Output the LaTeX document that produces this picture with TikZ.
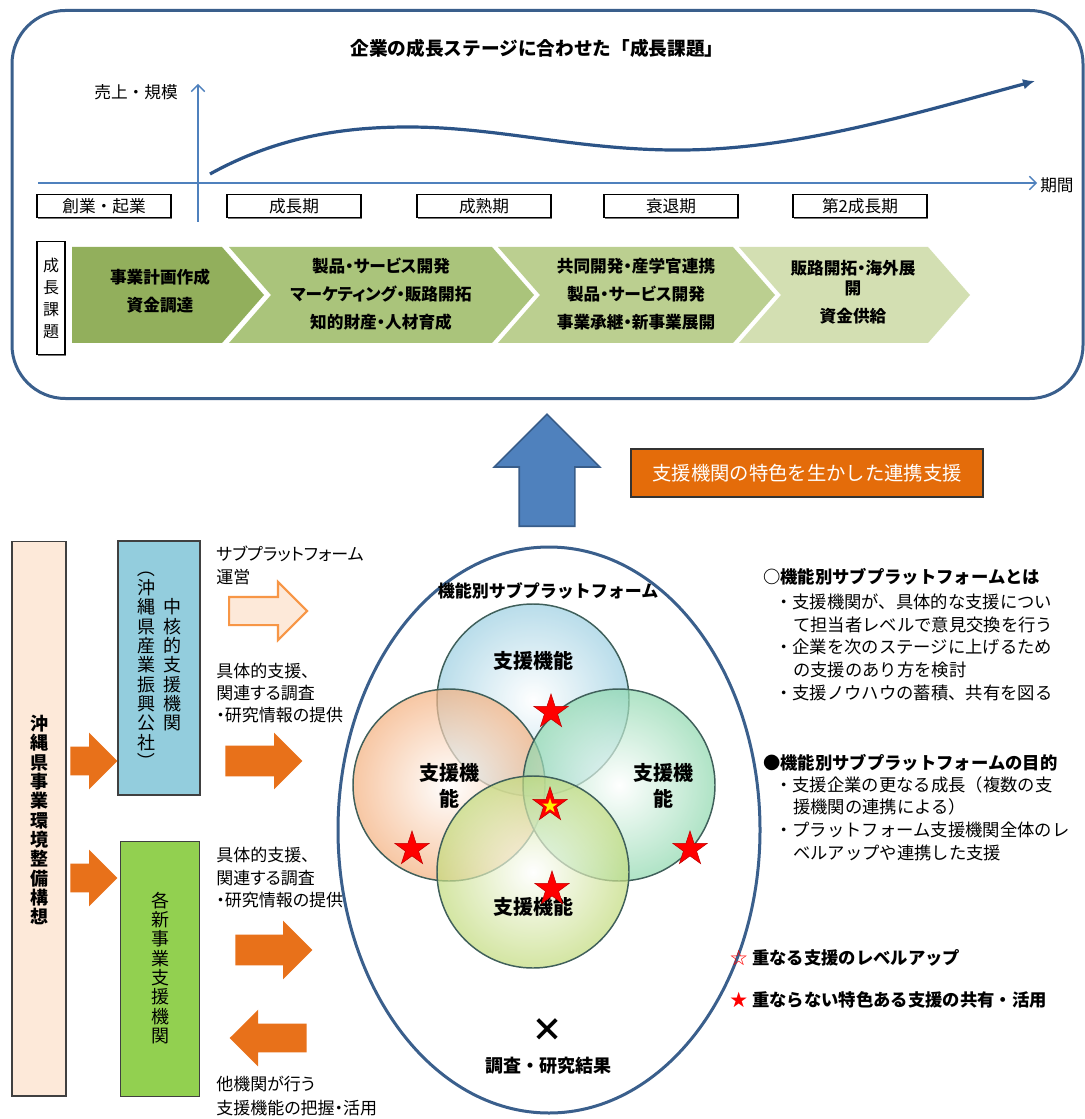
\documentclass[tikz,border=0pt]{standalone}
\usepackage{fontspec}
\usepackage{graphicx}
\setmainfont{Noto Sans CJK JP}
\newfontfamily\jpp{Noto Sans CJK JP}[RawFeature=+palt]
\usetikzlibrary{shapes.geometric,shapes.arrows,arrows.meta,shadows}
\definecolor{frame}{HTML}{3A5F8C}
\definecolor{axis}{HTML}{4F81BD}
\definecolor{curvec}{HTML}{2C5487}
\definecolor{chevA}{HTML}{92AF5C}
\definecolor{chevB}{HTML}{AAC47B}
\definecolor{chevC}{HTML}{BBCF90}
\definecolor{chevD}{HTML}{D3DFB2}
\definecolor{upblue}{HTML}{4F81BD}
\definecolor{upedge}{HTML}{385D8A}
\definecolor{banner}{HTML}{E46C0A}
\definecolor{peach}{HTML}{FDE9D9}
\definecolor{boxblue}{HTML}{93CDDD}
\definecolor{boxgreen}{HTML}{92D050}
\definecolor{arrorange}{HTML}{E8711A}
\definecolor{arredge}{HTML}{F79646}
\definecolor{cblue}{HTML}{9CCFE2}
\definecolor{corange}{HTML}{F5B07E}
\definecolor{cgreen}{HTML}{8ED8AE}
\definecolor{cyellow}{HTML}{C2DB7C}
\definecolor{ringedge}{HTML}{3F5F5A}
\newcommand{\vparL}{\rotatebox[origin=c]{-90}{（}}
\newcommand{\vparR}{\rotatebox[origin=c]{-90}{）}}
\begin{document}
\begin{tikzpicture}[x=0.75pt,y=-0.75pt,
  stagebox/.style={draw=black, fill=white, line width=0.9pt, minimum width=100.5pt, minimum height=17pt, inner sep=0pt, font=\fontsize{12.5}{14}\selectfont, drop shadow={shadow xshift=0.9pt, shadow yshift=-0.9pt, fill=black!55, opacity=1}},
  chevtext/.style={align=center, inner sep=0pt, font=\jpp\bfseries\fontsize{12.5}{21}\selectfont},
  barrow/.style n args={3}{single arrow, draw=none, fill=arrorange, inner xsep=0pt, inner ysep=#2, single arrow head extend=#3, minimum height=#1, minimum width=0pt},
  redstar/.style={star, star points=5, star point ratio=2.6, fill=red, draw=red!75!black, line width=0.4pt, minimum size=27pt, inner sep=0pt},
  ring/.style={circle, draw=ringedge, line width=1.1pt, minimum size=144pt, inner sep=0pt, fill opacity=0.7, inner color=white},
  ringlabel/.style={align=center, inner sep=0pt, font=\bfseries\fontsize{15}{19}\selectfont},
  lefttext/.style={anchor=west, inner sep=0pt, font=\jpp\fontsize{12.75}{14}\selectfont},
  righttext/.style={anchor=west, inner sep=0pt, font=\fontsize{13}{15}\selectfont},
  vtext/.style={align=center, inner sep=0pt, font=\fontsize{13.5}{14.5}\selectfont},
]
\useasboundingbox (0,0) rectangle (1084,1119);
\fill[white] (0,0) rectangle (1084,1119);

% ---------- top frame ----------
\node[draw=frame, line width=2.25pt, rounded corners=40pt, minimum width=803.25pt, minimum height=291pt, inner sep=0pt] (topframe) at (547.5,204.5) {};
\node[font=\bfseries\fontsize{14}{16}\selectfont] (title) at (537,48) {企業の成長ステージに合わせた「成長課題」};

% axes
\coordinate (xs) at (38,183);
\coordinate (xe) at (1037,183);
\coordinate (ys) at (198,222);
\coordinate (ye) at (198,84);
\draw[axis, line width=1pt, -{Straight Barb[length=5pt,width=10pt]}] (xs) -- (xe);
\draw[axis, line width=1pt, -{Straight Barb[length=5pt,width=10pt]}] (ys) -- (ye);
\node[anchor=west, inner sep=0pt, font=\fontsize{12.5}{14}\selectfont] (period) at (1040,185) {期間};
\node[font=\fontsize{12.5}{14}\selectfont] (sales) at (136,92) {売上・規模};

% growth curve
\coordinate (c0) at (210,174);
\coordinate (c1) at (408,127);
\coordinate (c2) at (684,150);
\coordinate (c3) at (1035,81);
\draw[curvec, line width=2.4pt, -{Latex[length=9pt,width=8pt]}] (c0) .. controls (275,138) and (340,127) .. (c1) .. controls (500,127) and (580,151) .. (c2) .. controls (800,149) and (920,112) .. (c3);

% stage boxes
\node[stagebox] (s1) at (104,206) {創業・起業};
\node[stagebox] (s2) at (294,206) {成長期};
\node[stagebox] (s3) at (484,206) {成熟期};
\node[stagebox] (s4) at (671,206) {衰退期};
\node[stagebox] (s5) at (860,206) {第2成長期};

% growth tasks label
\node[draw=black, fill=white, line width=0.9pt, minimum width=21pt, minimum height=85pt, inner sep=0pt, align=center, font=\fontsize{12}{16.5}\selectfont, drop shadow={shadow xshift=0.9pt, shadow yshift=-0.9pt, fill=black!55, opacity=1}] (tasks) at (51,298) {成\\長\\課\\題};

% chevrons
\fill[chevA] (72,247) -- (222,247) -- (264,295) -- (222,343) -- (72,343) -- cycle;
\fill[chevB] (229,247) -- (492,247) -- (534,295) -- (492,343) -- (229,343) -- (271,295) -- cycle;
\fill[chevC] (498,247) -- (733,247) -- (775,295) -- (733,343) -- (498,343) -- (540,295) -- cycle;
\fill[chevD] (739,247) -- (928,247) -- (970,295) -- (928,343) -- (739,343) -- (781,295) -- cycle;
\node[chevtext] (t1) at (160,291) {事業計画作成\\資金調達};
\node[chevtext] (t2) at (381,294) {製品・サービス開発\\マーケティング・販路開拓\\知的財産・人材育成};
\node[chevtext] (t3) at (636,294) {共同開発・産学官連携\\製品・サービス開発\\事業承継・新事業展開};
\node[chevtext] (t4) at (853,292) {販路開拓・海外展\\[-6pt]開\\資金供給};

% ---------- big up arrow & banner ----------
\node[single arrow, shape border rotate=90, fill=upblue, draw=upedge, line width=1.2pt, inner xsep=20.25pt, inner ysep=0pt, single arrow head extend=18.75pt, minimum height=84pt, minimum width=0pt, anchor=tail] (up) at (547,527) {};
\node[fill=banner, draw=black!80, line width=0.8pt, minimum width=264pt, minimum height=36pt, inner sep=0pt, text=white, font=\fontsize{14.5}{16}\selectfont] (bannerbox) at (807,473) {支援機関の特色を生かした連携支援};

% ---------- left boxes ----------
\node[fill=peach, draw=black!75, line width=1pt, minimum width=40.5pt, minimum height=416pt, inner sep=0pt] (plan) at (39,818.5) {};
\node[vtext, font=\bfseries\fontsize{13.5}{14.5}\selectfont] (plantext) at (39,820) {沖\\縄\\県\\事\\業\\環\\境\\整\\備\\構\\想};

\node[fill=boxblue, draw=black!75, line width=1pt, minimum width=61.5pt, minimum height=190.5pt, inner sep=0pt] (core) at (159,668) {};
\node[vtext] (coretext) at (172,665) {中\\核\\的\\支\\援\\機\\関};
\node[vtext] (coresub) at (146,665) {\vparL\\沖\\縄\\県\\産\\業\\振\\興\\公\\社\\\vparR};

\node[fill=boxgreen, draw=black!75, line width=1pt, minimum width=59.25pt, minimum height=191.25pt, inner sep=0pt] (each) at (160,969) {};
\node[vtext] (eachtext) at (160,968) {各\\新\\事\\業\\支\\援\\機\\関};

% block arrows
\node[barrow={35.25pt}{10.5pt}{10.5pt}, anchor=tail] (a1) at (70,761) {};
\node[barrow={35.25pt}{10.5pt}{10.5pt}, anchor=tail] (a2) at (70,878) {};
\node[barrow={58.5pt}{9.75pt}{11.25pt}, anchor=tail, fill=peach, draw=arredge, line width=1.6pt] (a3) at (228,611) {};
\node[barrow={57.75pt}{11.25pt}{9.75pt}, anchor=tail] (a4) at (225,761) {};
\node[barrow={57.75pt}{11.25pt}{10.5pt}, anchor=tail] (a5) at (235,950) {};
\node[barrow={57.75pt}{10.5pt}{10.5pt}, shape border rotate=180, anchor=tail] (a6) at (307,1038) {};

% left texts
\node[lefttext] (l1) at (216,554) {サブプラットフォーム};
\node[lefttext] (l2) at (216,577) {運営};
\node[lefttext] (l3) at (216,671) {具体的支援、};
\node[lefttext] (l4) at (216,693) {関連する調査};
\node[lefttext] (l5) at (216,715) {・研究情報の提供};
\node[lefttext] (l6) at (216,855) {具体的支援、};
\node[lefttext] (l7) at (216,878) {関連する調査};
\node[lefttext] (l8) at (216,900) {・研究情報の提供};
\node[lefttext] (l9) at (216,1084) {他機関が行う};
\node[lefttext] (l10) at (216,1108) {支援機能の把握・活用};

% ---------- ellipse & venn ----------
\node[ellipse, draw=frame, line width=2.25pt, minimum width=316.5pt, minimum height=424.5pt, inner sep=0pt] (oval) at (549,830) {};
\node[font=\bfseries\fontsize{12.75}{14}\selectfont] (ovaltitle) at (548,591) {機能別サブプラットフォーム};

\node[ring, outer color=cblue] (cb) at (533,700) {};
\node[ring, outer color=corange] (co) at (449,785) {};
\node[ring, outer color=cgreen] (cg) at (619,785) {};
\node[ring, outer color=cyellow] (cy) at (533,872) {};

\node[ringlabel] (lb) at (533,661) {支援機能};
\node[ringlabel] (lo) at (449,786) {支援機\\能};
\node[ringlabel] (lg) at (663,786) {支援機\\能};
\node[ringlabel] (ly) at (533,907) {支援機能};

\node[redstar] (st1) at (551,712) {};
\node[redstar] (st2) at (412,849) {};
\node[redstar] (st3) at (690,849) {};
\node[redstar] (st4) at (552,889) {};
\node[redstar] (st5) at (550,805) {};
\node[star, star points=5, star point ratio=2.6, fill=yellow, minimum size=12pt, inner sep=0pt] (st5in) at (550,806) {};

\node[font=\bfseries\fontsize{24}{26}\selectfont] (times) at (547,1030) {×};
\node[font=\bfseries\fontsize{13.5}{15}\selectfont] (result) at (548,1066) {調査・研究結果};

% ---------- right texts ----------
\node[righttext, font=\bfseries\fontsize{13}{15}\selectfont] (r0) at (763,577) {○機能別サブプラットフォームとは};
\node[righttext] (r1) at (775,602) {・支援機関が、具体的な支援につい};
\node[righttext] (r2) at (793,625) {て担当者レベルで意見交換を行う};
\node[righttext] (r3) at (775,647) {・企業を次のステージに上げるため};
\node[righttext] (r4) at (793,670) {の支援のあり方を検討};
\node[righttext] (r5) at (775,693) {・支援ノウハウの蓄積、共有を図る};
\node[righttext, font=\bfseries\fontsize{13}{15}\selectfont] (r6) at (763,763) {●機能別サブプラットフォームの目的};
\node[righttext] (r7) at (775,785) {・支援企業の更なる成長（複数の支};
\node[righttext] (r8) at (793,807) {援機関の連携による）};
\node[righttext] (r9) at (775,830) {・プラットフォーム支援機関全体のレ};
\node[righttext] (r10) at (793,853) {ベルアップや連携した支援};

\node[anchor=west, inner sep=0pt, text=red, font=\fontsize{13}{14}\selectfont] (k1) at (730,958) {☆};
\node[righttext, font=\bfseries\fontsize{13}{15}\selectfont] (k1t) at (752,958) {重なる支援のレベルアップ};
\node[anchor=west, inner sep=0pt, text=red, font=\fontsize{13}{14}\selectfont] (k2) at (730,1000) {★};
\node[righttext, font=\bfseries\fontsize{13}{15}\selectfont] (k2t) at (752,1000) {重ならない特色ある支援の共有・活用};
\end{tikzpicture}
\end{document}
